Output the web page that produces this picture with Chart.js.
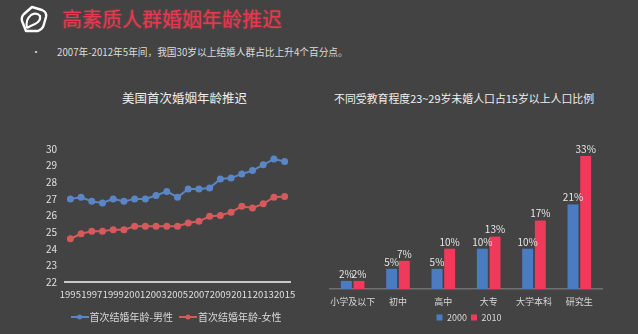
<!DOCTYPE html>
<html>
<head>
<meta charset="utf-8">
<script src="https://cdn.jsdelivr.net/npm/chart.js@4"></script>
<style>
  html, body { margin: 0; padding: 0; }
  body {
    width: 638px; height: 334px; overflow: hidden;
    background: #434343; position: relative;
    font-family: "Noto Sans CJK SC", "Noto Sans", sans-serif;
  }
  .abs { position: absolute; white-space: nowrap; }
  #title { left: 62px; top: 5px; font-size: 20px; color: #e4394f; line-height: 28px; text-shadow: 0 0 2px rgba(230,60,80,0.6); }
  #bullet { left: 31px; top: 44px; font-size: 10px; color: #d8d8d8; line-height: 16px; }
  #sub { left: 57px; top: 44px; font-size: 9.7px; color: #dcdcdc; line-height: 16px; }
  #t1 { left: 122px; top: 89px; font-size: 12.5px; color: #eeeeee; line-height: 18px; }
  #t2 { left: 334px; top: 89px; font-size: 10.9px; color: #eeeeee; line-height: 18px; }
  #logo { left: 18px; top: 4px; }
  #c1wrap { left: 0px; top: 135px; width: 305px; height: 199px; }
  #c2wrap { left: 320px; top: 135px; width: 318px; height: 199px; }
</style>
</head>
<body>
<svg id="logo" class="abs" width="32" height="32" viewBox="0 0 32 32">
  <path d="M8 27 L4 17 Q3 13 6 10 L14 3 L24 6 Q29 8 28 13 L26 20 Q25 25 20 27 Z" fill="none" stroke="#ffffff" stroke-width="2.4" stroke-linejoin="round"/>
  <path d="M9 24 Q7 16 13 11 Q19 8 22 12 Q23 17 17 20 Q12 22 9 24" fill="none" stroke="#ffffff" stroke-width="2.2"/>
</svg>
<div id="title" class="abs">高素质人群婚姻年龄推迟</div>
<div id="bullet" class="abs">•</div>
<div id="sub" class="abs">2007年-2012年5年间，我国30岁以上结婚人群占比上升4个百分点。</div>
<div id="t1" class="abs">美国首次婚姻年龄推迟</div>
<div id="t2" class="abs">不同受教育程度23~29岁未婚人口占15岁以上人口比例</div>
<div id="c1wrap" class="abs"><canvas id="lineChart"></canvas></div>
<div id="c2wrap" class="abs"><canvas id="barChart"></canvas></div>

<script>
// ===== 数据 =====
const years = ['1995','1996','1997','1998','1999','2000','2001','2002','2003','2004','2005',
               '2006','2007','2008','2009','2010','2011','2012','2013','2014','2015'];
const maleAge   = [27.0, 27.1, 26.85, 26.75, 27.0, 26.85, 27.0, 27.0, 27.2, 27.45, 27.1,
                   27.6, 27.6, 27.65, 28.2, 28.25, 28.5, 28.7, 29.05, 29.4, 29.25];
const femaleAge = [24.6, 24.9, 25.05, 25.05, 25.15, 25.15, 25.35, 25.35, 25.35, 25.35, 25.35,
                   25.55, 25.65, 25.95, 26.0, 26.2, 26.55, 26.45, 26.7, 27.1, 27.15];

const eduLevels = ['小学及以下', '初中', '高中', '大专', '大学本科', '研究生'];
const rate2000 = [2, 5, 5, 10, 10, 21];
const rate2010 = [2, 7, 10, 13, 17, 33];

const fontName = '"Noto Sans CJK SC", "Noto Sans", sans-serif';
Chart.defaults.font.family = fontName;
Chart.defaults.color = '#d8d8d8';
Chart.defaults.animation = false;

// 图例用的 "线+点" 图标
function lineMarker(color) {
  const c = document.createElement('canvas');
  c.width = 18; c.height = 6;
  const g = c.getContext('2d');
  g.strokeStyle = color; g.lineWidth = 2;
  g.beginPath(); g.moveTo(0, 3); g.lineTo(18, 3); g.stroke();
  g.fillStyle = color;
  g.beginPath(); g.arc(9, 3, 2.5, 0, Math.PI * 2); g.fill();
  return c;
}

// 图例整体平移
function legendShift(dx) {
  return {
    id: 'legendShift',
    afterLayout(chart) {
      if (chart.legend) { chart.legend.left += dx; chart.legend.right += dx; }
    }
  };
}

// ===== 折线图 =====
new Chart(document.getElementById('lineChart'), {
  type: 'line',
  data: {
    labels: years,
    datasets: [{
      label: '首次结婚年龄-男性',
      data: maleAge,
      borderColor: '#5a86c6',
      backgroundColor: '#5a86c6',
      borderWidth: 2,
      pointRadius: 2.5,
      tension: 0
    }, {
      label: '首次结婚年龄-女性',
      data: femaleAge,
      borderColor: '#d65a5c',
      backgroundColor: '#d65a5c',
      borderWidth: 2,
      pointRadius: 2.5,
      tension: 0
    }]
  },
  options: {
    responsive: true,
    maintainAspectRatio: false,
    layout: { padding: { left: 0, right: 15, top: 8, bottom: 2 } },
    plugins: {
      legend: {
        position: 'bottom',
        labels: {
          usePointStyle: true,
          padding: 10,
          color: '#d8d8d8',
          font: { size: 10 },
          generateLabels(chart) {
            return chart.data.datasets.map((ds, i) => ({
              text: ds.label,
              pointStyle: lineMarker(ds.borderColor),
              fillStyle: ds.borderColor,
              strokeStyle: ds.borderColor,
              fontColor: '#d8d8d8',
              lineWidth: 0,
              hidden: false,
              datasetIndex: i
            }));
          }
        }
      },
      tooltip: { enabled: false }
    },
    scales: {
      y: {
        min: 22, max: 30,
        ticks: { stepSize: 1, autoSkip: false, padding: 8, color: '#e0e0e0', font: { size: 10 } },
        grid: { display: false, drawTicks: false },
        border: { display: false },
        afterFit: function(scale) { scale.width = 65; }
      },
      x: {
        offset: true,
        grid: { display: false, drawTicks: false },
        border: { display: true, color: '#c8c8c8', width: 2 },
        ticks: {
          autoSkip: false, maxRotation: 0, minRotation: 0, padding: 7,
          color: '#e0e0e0', font: { size: 9.5 },
          callback: function(v, i) { return i % 2 === 0 ? this.getLabelForValue(v) : ''; }
        },
        afterFit: function(scale) { scale.height = 20; }
      }
    }
  },
  plugins: [legendShift(33)]
});

// ===== 柱状图 数值标签 =====
const barLabels = {
  id: 'barLabels',
  afterDatasetsDraw(chart) {
    const ctx = chart.ctx;
    ctx.save();
    ctx.font = '10px ' + fontName;
    ctx.fillStyle = '#e6e6e6';
    ctx.textAlign = 'center';
    ctx.textBaseline = 'bottom';
    chart.data.datasets.forEach((ds, di) => {
      chart.getDatasetMeta(di).data.forEach((bar, i) => {
        ctx.fillText(ds.data[i] + '%', bar.x, bar.y - 2);
      });
    });
    ctx.restore();
  }
};

new Chart(document.getElementById('barChart'), {
  type: 'bar',
  data: {
    labels: eduLevels,
    datasets: [{
      label: '2000',
      data: rate2000,
      backgroundColor: '#4b7cc2',
      categoryPercentage: 0.56,
      barPercentage: 0.86
    }, {
      label: '2010',
      data: rate2010,
      backgroundColor: '#f03a5c',
      categoryPercentage: 0.56,
      barPercentage: 0.86
    }]
  },
  options: {
    responsive: true,
    maintainAspectRatio: false,
    layout: { padding: { left: 10, right: 36, top: 9, bottom: 2 } },
    plugins: {
      legend: {
        position: 'bottom',
        labels: {
          boxWidth: 6, boxHeight: 6, padding: 4,
          color: '#d8d8d8', font: { size: 9 }
        }
      },
      tooltip: { enabled: false }
    },
    scales: {
      y: { display: false, min: 0, max: 36 },
      x: {
        grid: { display: false, drawTicks: false },
        border: { display: true, color: '#707070', width: 1.5 },
        ticks: { autoSkip: false, maxRotation: 0, minRotation: 0, padding: 7, color: '#d8d8d8', font: { size: 9 } },
        afterFit: function(scale) { scale.height = 20; }
      }
    }
  },
  plugins: [barLabels, legendShift(3)]
});
</script>
</body>
</html>
